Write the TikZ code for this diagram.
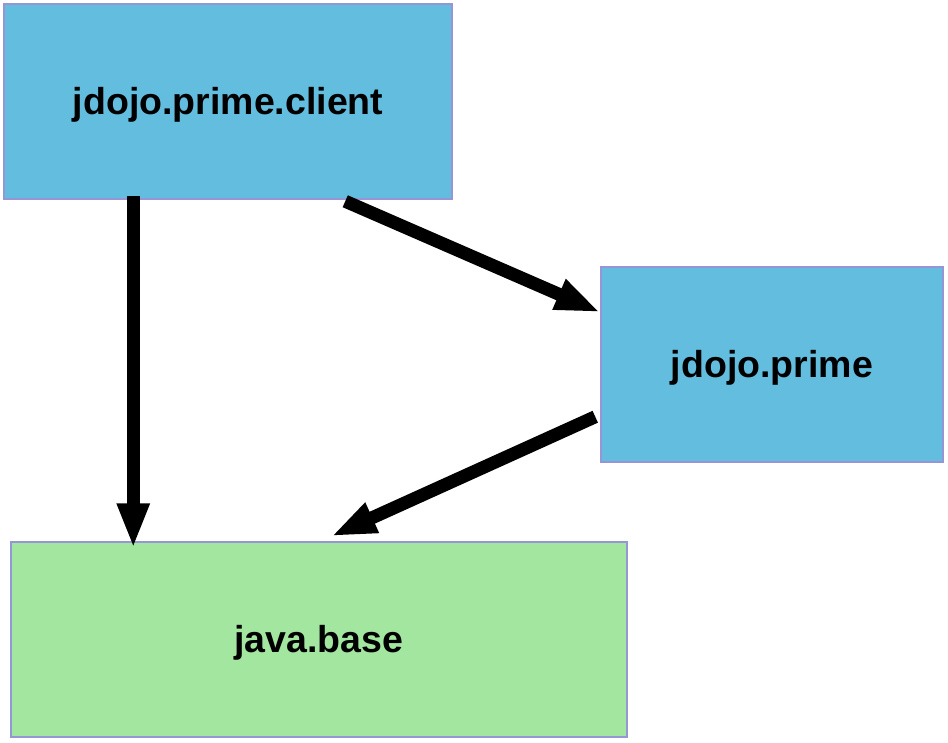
\documentclass[tikz,border=0pt]{standalone}
\usepackage{fontspec}
\setmainfont{Liberation Sans}
\usetikzlibrary{arrows.meta,calc}
\definecolor{boxblue}{RGB}{98,189,222}
\definecolor{boxgreen}{RGB}{162,230,160}
\definecolor{boxedge}{RGB}{150,150,215}
\tikzset{
  modbox/.style={draw=boxedge, line width=1.5pt, inner sep=0pt, font=\fontsize{37.5}{45}\selectfont\bfseries, text=black, minimum height=195pt, text height=33pt, text depth=8pt},
  dep/.style={line width=13pt, -{Triangle[length=45pt,width=30pt]}}
}
\begin{document}
\begin{tikzpicture}[x=1pt,y=-1pt]
\useasboundingbox (0,0) rectangle (948,742);
\node[modbox, fill=boxblue, minimum width=448pt] (a) at (228,101.5) {jdojo.prime.client};
\node[modbox, fill=boxblue, minimum width=342pt] (b) at (772,364.5) {jdojo.prime};
\node[modbox, fill=boxgreen, minimum width=616pt] (c) at (319,639.5) {java.base};
\draw[dep] ($(a.south west)+(130,-4)$) -- ($(c.north west)+(123,7)$);
\draw[dep] ($(a.south west)+(342,1.5)$) -- ($(b.north west)+(0,46)$);
\draw[dep] ($(b.south west)+(-5,-46)$) -- ($(c.north west)+(321,-5)$);
\end{tikzpicture}
\end{document}
